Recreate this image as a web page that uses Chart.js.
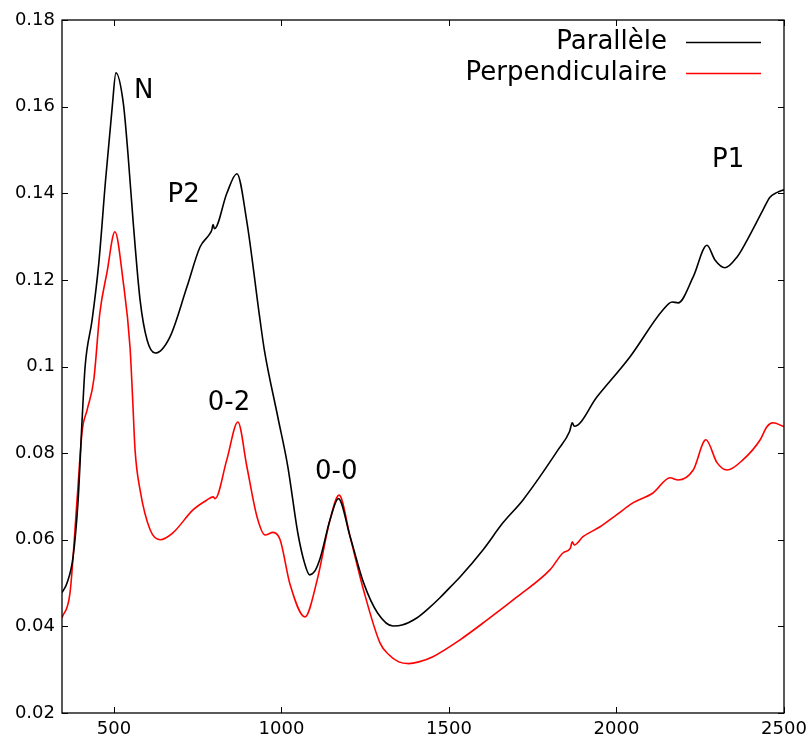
<!DOCTYPE html>
<html><head><meta charset="utf-8">
<script src="https://cdn.jsdelivr.net/npm/chart.js@4.4.1/dist/chart.umd.min.js"></script>
<style>html,body{margin:0;padding:0;background:#fff}#wrap{width:806px;height:736px}</style>
</head><body><div id="wrap"><canvas id="c" width="806" height="736"></canvas></div>
<script>
// ---- data ----
const seriesLabels = ['Parallèle', 'Perpendiculaire'];

const parX = [345, 360, 378, 393, 405, 414, 435, 455, 475, 495, 506, 528, 542, 557, 578, 599, 623, 667, 718, 757, 785, 792, 796, 800, 837, 867, 896, 936, 949, 989, 1019, 1049, 1069, 1084, 1100, 1115, 1145, 1170, 1205, 1245, 1287, 1333, 1360, 1405, 1440, 1473, 1503, 1533, 1602, 1661, 1721, 1826, 1860, 1868, 1874, 1942, 2040, 2139, 2166, 2184, 2229, 2270, 2294, 2324, 2360, 2390, 2437, 2458, 2480, 2500];
const parY = [0.0478, 0.0500, 0.0560, 0.0690, 0.0877, 0.1000, 0.1108, 0.1240, 0.1430, 0.1600, 0.1678, 0.1608, 0.1490, 0.1338, 0.1154, 0.1061, 0.1031, 0.1068, 0.1184, 0.1276, 0.1305, 0.1315, 0.1328, 0.1318, 0.1400, 0.1445, 0.1338, 0.1108, 0.1038, 0.0884, 0.0769, 0.0615, 0.0546, 0.0519, 0.0528, 0.0556, 0.0646, 0.0695, 0.0607, 0.0501, 0.0431, 0.0401, 0.0403, 0.0420, 0.0442, 0.0466, 0.0490, 0.0514, 0.0577, 0.0639, 0.0692, 0.0808, 0.0850, 0.0870, 0.0862, 0.0930, 0.1022, 0.1131, 0.1149, 0.1147, 0.1207, 0.1280, 0.1246, 0.1228, 0.1253, 0.1292, 0.1361, 0.1391, 0.1402, 0.1408];

const perX = [345, 369, 390, 405, 420, 440, 458, 479, 503, 527, 548, 556, 563, 578, 608, 638, 676, 736, 778, 796, 802, 837, 870, 897, 927, 951, 975, 996, 1026, 1070, 1106, 1145, 1172, 1205, 1245, 1294, 1320, 1350, 1380, 1410, 1452, 1533, 1614, 1703, 1802, 1841, 1862, 1868, 1874, 1900, 1951, 2001, 2049, 2109, 2160, 2184, 2229, 2267, 2300, 2330, 2378, 2429, 2449, 2467, 2500];
const perY = [0.0420, 0.0478, 0.0692, 0.0850, 0.0900, 0.0970, 0.1124, 0.1216, 0.1311, 0.1200, 0.1045, 0.0923, 0.0808, 0.0715, 0.0623, 0.0600, 0.0616, 0.0669, 0.0692, 0.0699, 0.0695, 0.0785, 0.0872, 0.0768, 0.0653, 0.0611, 0.0617, 0.0600, 0.0496, 0.0422, 0.0505, 0.0646, 0.0703, 0.0607, 0.0484, 0.0362, 0.0335, 0.0318, 0.0314, 0.0318, 0.0330, 0.0369, 0.0415, 0.0468, 0.0531, 0.0570, 0.0580, 0.0595, 0.0588, 0.0607, 0.0630, 0.0658, 0.0685, 0.0708, 0.0743, 0.0738, 0.0761, 0.0831, 0.0778, 0.0761, 0.0785, 0.0831, 0.0861, 0.0870, 0.0861];

const xTicks = [500, 1000, 1500, 2000, 2500];
const yTicks = [0.02, 0.04, 0.06, 0.08, 0.10, 0.12, 0.14, 0.16, 0.18];

const annotationText = ['N', 'P2', '0-2', '0-0', 'P1'];
const annotationX = [560, 660, 780, 1100, 2285];
const annotationY = [0.162, 0.138, 0.090, 0.074, 0.146];

// ---- build ----
const zip = (xs, ys) => xs.map((x, i) => ({x: x, y: ys[i]}));
const colors = ['#000000', '#ff0000'];

const frameAndExtras = {
  id: 'frameAndExtras',
  afterDraw(chart) {
    const ctx = chart.ctx, a = chart.chartArea;
    const xs = chart.scales.x, ys = chart.scales.y;
    ctx.save();
    ctx.strokeStyle = '#000';
    ctx.lineWidth = 1.3;
    ctx.strokeRect(a.left, a.top, a.right - a.left, a.bottom - a.top);
    const L = 6;
    ctx.lineWidth = 1;
    ctx.beginPath();
    xTicks.forEach(v => {
      const p = Math.round(xs.getPixelForValue(v)) + 0.5;
      ctx.moveTo(p, a.bottom); ctx.lineTo(p, a.bottom - L);
      ctx.moveTo(p, a.top); ctx.lineTo(p, a.top + L);
    });
    yTicks.forEach(v => {
      const p = Math.round(ys.getPixelForValue(v)) + 0.5;
      ctx.moveTo(a.left, p); ctx.lineTo(a.left + L, p);
      ctx.moveTo(a.right, p); ctx.lineTo(a.right - L, p);
    });
    ctx.stroke();
    ctx.fillStyle = '#000';
    ctx.font = '26px "DejaVu Sans"';
    ctx.textAlign = 'left';
    ctx.textBaseline = 'alphabetic';
    annotationText.forEach((t, i) => {
      ctx.fillText(t, xs.getPixelForValue(annotationX[i]), ys.getPixelForValue(annotationY[i]));
    });
    const rowY = [a.top + 22, a.top + 53];
    const lineR = a.right - 23, lineL = lineR - 75, textR = lineL - 19;
    chart.data.datasets.forEach((ds, i) => {
      ctx.textAlign = 'right';
      ctx.textBaseline = 'middle';
      ctx.fillStyle = '#000';
      ctx.fillText(ds.label, textR, rowY[i]);
      ctx.strokeStyle = ds.borderColor;
      ctx.lineWidth = 1.5;
      ctx.beginPath();
      ctx.moveTo(lineL, rowY[i] + 0.5); ctx.lineTo(lineR, rowY[i] + 0.5);
      ctx.stroke();
    });
    ctx.restore();
  }
};

new Chart(document.getElementById('c'), {
  type: 'line',
  data: {
    datasets: [
      {label: seriesLabels[0], data: zip(parX, parY), borderColor: colors[0], borderWidth: 1.6, pointRadius: 0, fill: false, cubicInterpolationMode: 'monotone'},
      {label: seriesLabels[1], data: zip(perX, perY), borderColor: colors[1], borderWidth: 1.6, pointRadius: 0, fill: false, cubicInterpolationMode: 'monotone'}
    ]
  },
  options: {
    responsive: false,
    animation: false,
    devicePixelRatio: 1,
    layout: {padding: {left: 0, top: 20, right: 22, bottom: 0}},
    plugins: {legend: {display: false}, tooltip: {enabled: false}},
    scales: {
      x: {
        type: 'linear', min: 345, max: 2500,
        grid: {display: false, drawTicks: false},
        border: {display: false},
        afterBuildTicks: s => { s.ticks = xTicks.map(v => ({value: v})); },
        afterFit: s => { s.height = 23; s.paddingLeft = 0; s.paddingRight = 0; },
        ticks: {color: '#000', font: {family: 'DejaVu Sans', size: 18}, padding: 6, maxRotation: 0, autoSkip: false,
          callback: v => String(v)}
      },
      y: {
        type: 'linear', min: 0.02, max: 0.18,
        grid: {display: false, drawTicks: false},
        border: {display: false},
        afterBuildTicks: s => { s.ticks = yTicks.map(v => ({value: v})); },
        afterFit: s => { s.width = 62; s.paddingTop = 0; s.paddingBottom = 0; },
        ticks: {color: '#000', font: {family: 'DejaVu Sans', size: 18}, padding: 7, autoSkip: false,
          callback: v => String(Number(v.toFixed(2)))}
      }
    }
  },
  plugins: [frameAndExtras]
});
</script>
</body></html>
